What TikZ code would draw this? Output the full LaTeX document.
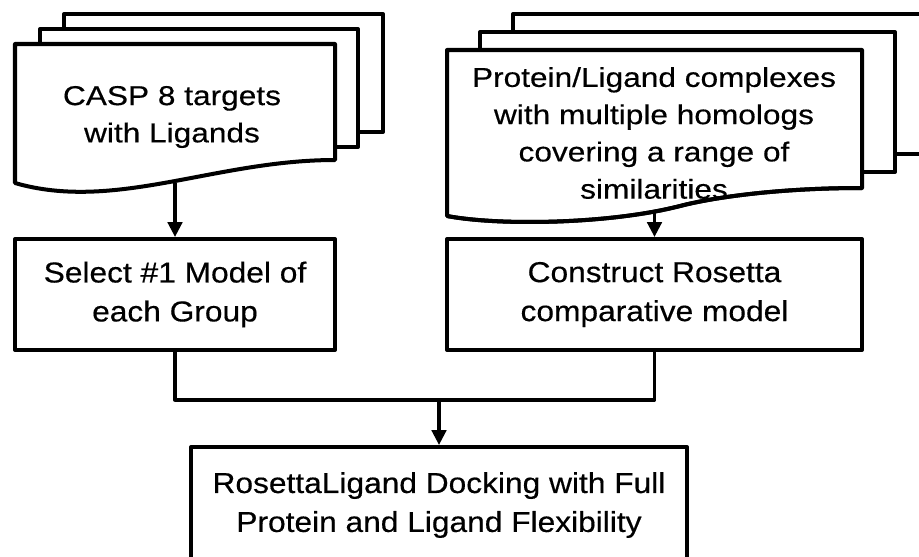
\documentclass[tikz,border=0pt]{standalone}
\usepackage{fontspec}
\setmainfont{Liberation Sans}
\usepackage{tikz}
\usetikzlibrary{arrows.meta}
\usetikzlibrary{positioning}

\newfontfamily\docfont[FakeStretch=1.16,FakeBold=0.4]{Liberation Sans}
\newfontfamily\boxfont[FakeStretch=1.1,FakeBold=0.4]{Liberation Sans}

\begin{document}
\begin{tikzpicture}[
  page/.style={draw=black,line width=2.85pt,line join=round,fill=white},
  edge/.style={draw=black,line width=2.85pt,line join=round},
  stepbox/.style={rectangle,draw=black,line width=2.85pt,line join=round,fill=white,align=center,inner sep=0pt,minimum height=2.775cm,font=\boxfont\fontsize{20.5}{27.7}\selectfont},
  doctext/.style={align=center,inner sep=0pt,font=\docfont\fontsize{19.4}{26.5}\selectfont},
  link/.style={line width=2.35pt,line join=round},
  arrow/.style={link,-{Triangle[width=0.36cm,length=0.37cm]}}
]
\useasboundingbox (0,0) rectangle (22.975,13.9);
\clip (0,0) rectangle (22.975,13.9);

% CASP 8 stack of pages
\draw[page] (1.6,10.6) rectangle (9.575,13.55);
\draw[page] (1.0,10.225) rectangle (8.95,13.175);
\draw[page] (0.375,12.8) -- (0.375,9.325) .. controls (2.875,8.6) and (5.375,9.9) .. (8.375,9.9) -- (8.375,12.8) -- cycle;
\node[doctext] (casp) at (4.3,10.975) {CASP 8 targets\\with Ligands};
\coordinate (casp-out) at (4.375,9.325);

% homolog complexes stack of pages
\draw[page] (12.825,10.05) rectangle (23.2,13.55);
\draw[page] (12.0,9.6) rectangle (22.375,13.1);
\draw[page] (11.175,12.65) -- (11.175,8.5) .. controls (12.5,8.25) and (15.25,8.3) .. (17.0,8.75)
  .. controls (17.875,8.975) and (19.5,9.2) .. (21.55,9.2) -- (21.55,12.65) -- cycle;
\node[doctext] (homologs) at (16.35,10.575) {Protein/Ligand complexes\\with multiple homologs\\covering a range of\\similarities};
\draw[edge] (11.175,8.5) .. controls (12.5,8.25) and (15.25,8.3) .. (17.0,8.75)
  .. controls (17.875,8.975) and (19.5,9.2) .. (21.55,9.2);
\coordinate (homologs-out) at (16.3625,8.6);

% modelling steps
\node[stepbox,minimum width=8cm] (select) at (4.375,6.5375) {Select \#1 Model of\\each Group};
\node[stepbox,minimum width=10.375cm] (construct) at (16.3625,6.5375) {Construct Rosetta\\comparative model};
\node[stepbox,minimum width=12.4cm,minimum height=2.9cm] (dock) at (10.975,1.275) {RosettaLigand Docking with Full\\Protein and Ligand Flexibility};

\draw[arrow] (casp-out) -- (select.north);
\draw[arrow] (homologs-out) -- (construct.north);
\draw[link] (select.south) -- ++(0,-1.2) coordinate (elbow) -| (construct.south);
\draw[arrow] (elbow -| dock.north) -- (dock.north);

\end{tikzpicture}
\end{document}
